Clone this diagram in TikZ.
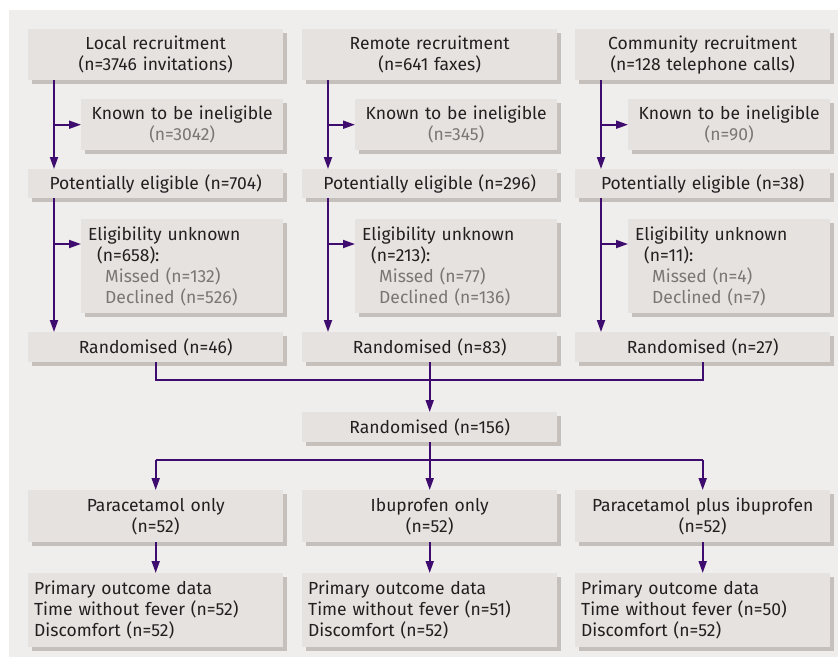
\documentclass[tikz,border=0pt]{standalone}
\usepackage{fontspec}
\setmainfont{Fira Sans}
\usetikzlibrary{arrows.meta,shadows}
\definecolor{panelcol}{HTML}{F0EEEC}
\definecolor{boxcol}{HTML}{E5E2DF}
\definecolor{shadecol}{HTML}{C5C0BB}
\definecolor{arrowcol}{HTML}{3D0C6E}
\definecolor{textcol}{HTML}{231F20}
\definecolor{greytext}{HTML}{7A7672}
\begin{document}
\begin{tikzpicture}[x=1pt,y=-1pt,
  every node/.style={font=\fontsize{17.5}{21}\selectfont, text=textcol},
  box/.style={fill=boxcol, inner sep=0pt, anchor=north west,
    drop shadow={shadow xshift=3.5pt, shadow yshift=-3.5pt, fill=shadecol, opacity=1}},
  cbox/.style={box, align=center, minimum width=#1, text width=#1},
  lbox/.style={box, align=left, inner xsep=7pt, text width=#1-14pt, minimum width=#1},
  obox/.style={box, align=left, inner xsep=6pt, text width=#1-12pt, minimum width=#1},
  flow/.style={draw=arrowcol, line width=1.8pt},
  arr/.style={flow, -{Triangle[length=12pt,width=8pt]}}]
\useasboundingbox (0,0) rectangle (838,657);
\fill[panelcol] (9,10) rectangle (838,657);
% column 1
\node[cbox=255pt, minimum height=51pt] (r1) at (28,29) {Local recruitment\\(n=3746 invitations)};
\node[cbox=202pt, minimum height=51pt] (k1) at (81,99) {Known to be ineligible\\\textcolor{greytext}{(n=3042)}};
\node[cbox=255pt, minimum height=29pt] (p1) at (28,169) {Potentially eligible (n=704)};
\node[lbox=202pt, minimum height=94pt] (u1) at (81,219) {Eligibility unknown\\\hspace*{9pt}(n=658):\\\hspace*{17pt}\textcolor{greytext}{Missed (n=132)}\\\hspace*{17pt}\textcolor{greytext}{Declined (n=526)}};
\node[cbox=255pt, minimum height=30pt] (z1) at (28,332) {Randomised (n=46)};
% column 2
\node[cbox=255pt, minimum height=51pt] (r2) at (302,29) {Remote recruitment\\(n=641 faxes)};
\node[cbox=202pt, minimum height=51pt] (k2) at (355,99) {Known to be ineligible\\\textcolor{greytext}{(n=345)}};
\node[cbox=255pt, minimum height=29pt] (p2) at (302,169) {Potentially eligible (n=296)};
\node[lbox=202pt, minimum height=94pt] (u2) at (355,219) {Eligibility unknown\\\hspace*{9pt}(n=213):\\\hspace*{17pt}\textcolor{greytext}{Missed (n=77)}\\\hspace*{17pt}\textcolor{greytext}{Declined (n=136)}};
\node[cbox=255pt, minimum height=30pt] (z2) at (302,332) {Randomised (n=83)};
% column 3
\node[cbox=255pt, minimum height=51pt] (r3) at (575,29) {Community recruitment\\(n=128 telephone calls)};
\node[cbox=202pt, minimum height=51pt] (k3) at (628,99) {Known to be ineligible\\\textcolor{greytext}{(n=90)}};
\node[cbox=255pt, minimum height=29pt] (p3) at (575,169) {Potentially eligible (n=38)};
\node[lbox=202pt, minimum height=94pt] (u3) at (628,219) {Eligibility unknown\\\hspace*{9pt}(n=11):\\\hspace*{17pt}\textcolor{greytext}{Missed (n=4)}\\\hspace*{17pt}\textcolor{greytext}{Declined (n=7)}};
\node[cbox=255pt, minimum height=30pt] (z3) at (575,332) {Randomised (n=27)};
% pooled
\node[cbox=255pt, minimum height=30pt] (all) at (302,412) {Randomised (n=156)};
% treatments
\node[cbox=255pt, minimum height=52pt] (t1) at (28,490) {Paracetamol only\\(n=52)};
\node[cbox=255pt, minimum height=52pt] (t2) at (302,490) {Ibuprofen only\\(n=52)};
\node[cbox=255pt, minimum height=52pt] (t3) at (575,490) {Paracetamol plus ibuprofen\\(n=52)};
\node[obox=255pt, minimum height=74pt] (o1) at (28,573) {Primary outcome data\\Time without fever (n=52)\\Discomfort (n=52)};
\node[obox=255pt, minimum height=74pt] (o2) at (302,573) {Primary outcome data\\Time without fever (n=51)\\Discomfort (n=52)};
\node[obox=255pt, minimum height=74pt] (o3) at (575,573) {Primary outcome data\\Time without fever (n=50)\\Discomfort (n=52)};
% connectors within columns
\foreach \c in {1,2,3}{
  \draw[arr] (r\c.south west) ++(26,0) coordinate (a\c) -- (a\c |- p\c.north);
  \draw[arr] (a\c |- k\c.west) -- (k\c.west);
  \draw[arr] (p\c.south west) ++(26,0) coordinate (b\c) -- (b\c |- z\c.north);
  \draw[arr] (b\c |- 0,244) -- (u\c.west |- 0,244);
  \draw[arr] (t\c.south) -- (o\c.north);
}
% join
\coordinate (j1) at (155.5,380);
\draw[flow] (z1.south) -- (z1.south |- j1) -- (z3.south |- j1) -- (z3.south);
\draw[flow] (z2.south) -- (z2.south |- j1);
\draw[arr] (z2.south |- j1) -- (all.north);
% split
\coordinate (s1) at (155.5,460);
\draw[flow] (all.south) -- (all.south |- s1);
\draw[flow] (t1.north |- s1) -- (t3.north |- s1);
\draw[arr] (t1.north |- s1) -- (t1.north);
\draw[arr] (all.south |- s1) -- (t2.north);
\draw[arr] (t3.north |- s1) -- (t3.north);
\end{tikzpicture}
\end{document}
